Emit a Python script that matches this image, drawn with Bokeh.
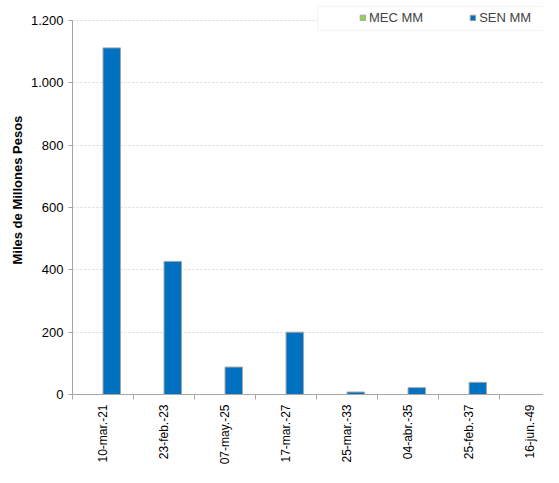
from bokeh.plotting import figure
from bokeh.models import (FixedTicker, Range1d, Legend, LegendItem, BoxAnnotation,
                          ColumnDataSource, Title)
from bokeh.embed import file_html
from bokeh.resources import INLINE
import math

categories = ["10-mar.-21", "23-feb.-23", "07-may.-25", "17-mar.-27",
              "25-mar.-33", "04-abr.-35", "25-feb.-37", "16-jun.-49"]
mec_mm = [0, 0, 0, 0, 0, 0, 0, 0]
sen_mm = [1112, 427, 88, 200, 8, 22, 39, 0]
y_ticks = [0, 200, 400, 600, 800, 1000, 1200]
y_tick_labels = ["0", "200", "400", "600", "800", "1.000", "1.200"]

FONT = "Liberation Sans"
BLUE = "#0070C0"
GREEN = "#92D050"
OUTLINE = "#A6A6A6"
AXIS = "#A6A6A6"

centers = [i + 0.5 for i in range(len(categories))]
bw = 0.287
src = ColumnDataSource(dict(
    xm=[c - bw / 2 for c in centers],
    xs=[c + bw / 2 for c in centers],
    mec=mec_mm, sen=sen_mm))

p = figure(width=543, height=467, output_backend="svg", toolbar_location=None,
           x_range=Range1d(0, 7.72), y_range=Range1d(0, 1264),
           min_border_left=72, min_border_right=0, min_border_top=0,
           min_border_bottom=60)
p.outline_line_color = None
p.background_fill_color = "white"
p.border_fill_color = "white"

r_mec = p.vbar(x="xm", top="mec", bottom=0, width=bw, source=src,
               fill_color=GREEN, line_color=OUTLINE, line_width=1)
r_sen = p.vbar(x="xs", top="sen", bottom=0, width=bw, source=src,
               fill_color=BLUE, line_color=OUTLINE, line_width=1)

# axes
p.xaxis.ticker = FixedTicker(ticks=centers, minor_ticks=list(range(len(categories) + 1)))
p.xaxis.major_label_overrides = {c: lab for c, lab in zip(centers, categories)}
p.xaxis.major_label_orientation = math.pi / 2
p.xaxis.major_tick_line_color = None
p.xaxis.minor_tick_in = 0
p.xaxis.minor_tick_out = 5
p.xaxis.minor_tick_line_color = AXIS
p.xaxis.axis_line_color = AXIS
p.xaxis.major_label_standoff = 4
p.xaxis.major_label_text_font = FONT
p.xaxis.major_label_text_font_size = "12px"
p.xaxis.major_label_text_color = "#000000"

p.yaxis.ticker = FixedTicker(ticks=y_ticks)
p.yaxis.bounds = (0, 1200)
p.yaxis.major_label_overrides = {t: lab for t, lab in zip(y_ticks, y_tick_labels)}
p.yaxis.minor_tick_line_color = None
p.yaxis.major_tick_in = 0
p.yaxis.major_tick_out = 4
p.yaxis.major_tick_line_color = AXIS
p.yaxis.axis_line_color = AXIS
p.yaxis.major_label_standoff = 5
p.yaxis.major_label_text_font = FONT
p.yaxis.major_label_text_font_size = "13px"
p.yaxis.major_label_text_color = "#000000"

ylabel = Title(text="Miles de Millones Pesos", align="left", offset=130,
               text_font=FONT, text_font_size="13px", text_font_style="bold",
               text_color="#000000", standoff=6)
p.add_layout(ylabel, "left")

p.xgrid.grid_line_color = None
p.ygrid.grid_line_color = "#D9D9D9"
p.ygrid.grid_line_dash = "2 2"

# legend box (drawn beneath the legend items)
box = BoxAnnotation(left=317, right=600, top=6, bottom=30,
                    left_units="canvas", right_units="canvas",
                    top_units="canvas", bottom_units="canvas",
                    fill_color="white", fill_alpha=1.0,
                    line_color="#D9D9D9", line_width=1, level="underlay")
p.add_layout(box)

legend = Legend(items=[LegendItem(label="MEC MM", renderers=[r_mec]),
                       LegendItem(label="SEN MM", renderers=[r_sen])],
                orientation="horizontal", location=(283, 365),
                border_line_alpha=0, background_fill_alpha=0,
                padding=4, margin=0, spacing=46,
                glyph_width=7, glyph_height=7, label_standoff=3,
                label_text_font=FONT, label_text_font_size="13px",
                label_height=14)
p.add_layout(legend, "center")

open("out.html", "w").write(file_html(p, INLINE))
